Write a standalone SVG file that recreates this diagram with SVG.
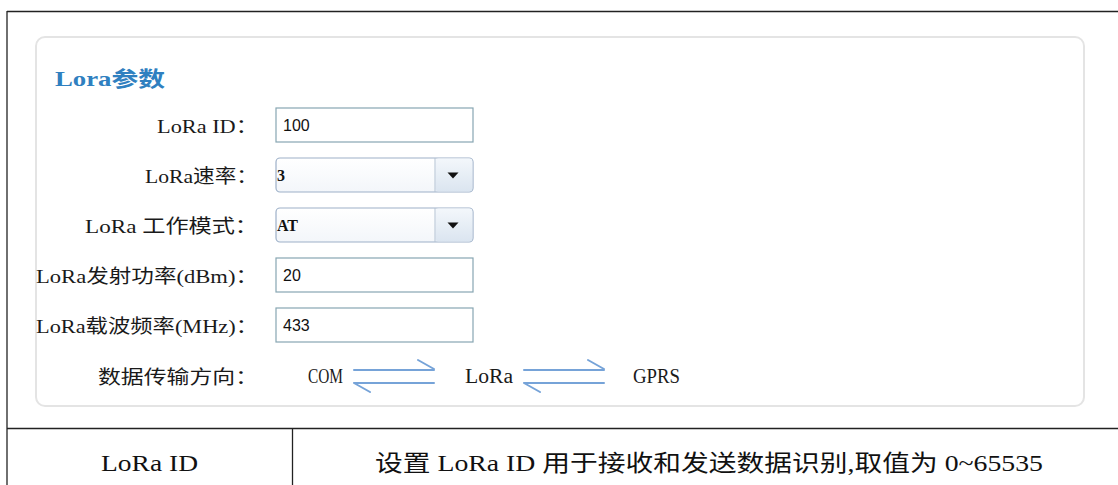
<svg xmlns="http://www.w3.org/2000/svg" width="1118" height="485" viewBox="0 0 1118 485">
<style>
.lbl{font-family:"Liberation Serif","Noto Sans CJK SC",serif;font-size:19px;fill:#1a1a1a;text-anchor:end}
.val{font-family:"Liberation Sans","DejaVu Sans",sans-serif;font-size:16px;fill:#111}
.valm{font-family:"Liberation Serif",serif;font-size:16px;fill:#111;font-weight:bold}
.nd{font-family:"Liberation Serif",serif;font-size:20px;fill:#1a1a1a}
.box{fill:#fff;stroke:#87a6b2;stroke-width:1.2}
.sel{fill:url(#selg);stroke:#9db0c8;stroke-width:1.2}
.btn{fill:url(#btng)}
.arr{stroke:#76a3d8;stroke-width:2;fill:none;stroke-linecap:round}
.tbl{font-family:"Liberation Serif","Noto Sans CJK SC",serif;font-size:23px;fill:#111}
</style>
<defs>
<linearGradient id="selg" x1="0" y1="0" x2="0" y2="1"><stop offset="0" stop-color="#ffffff"/><stop offset="1" stop-color="#f3f6fa"/></linearGradient>
<linearGradient id="btng" x1="0" y1="0" x2="0" y2="1"><stop offset="0" stop-color="#f3f7fb"/><stop offset="1" stop-color="#dbe5f0"/></linearGradient>
</defs>
<rect width="1118" height="485" fill="#fff"/>
<g id="frame">
<line x1="7" y1="11.5" x2="1118" y2="11.5" stroke="#222" stroke-width="1.3"/>
<line x1="7" y1="11" x2="7" y2="485" stroke="#222" stroke-width="1.3"/>
</g>
<g id="panel">
<rect x="36" y="37" width="1048" height="369" rx="9" fill="#fff" stroke="#e4e4e4" stroke-width="2"/>
<text x="55" y="86" font-family="Liberation Serif,'Noto Sans CJK SC',serif" font-size="21" font-weight="bold" fill="#2f80c0" textLength="110" lengthAdjust="spacingAndGlyphs">Lora参数</text>
</g>
<g id="row-id">
<text class="lbl" x="258" y="133" textLength="101" lengthAdjust="spacingAndGlyphs">LoRa ID：</text>
<rect class="box" x="276" y="108" width="197" height="34"/>
<text class="val" x="283" y="131">100</text>
</g>
<g id="row-rate">
<text class="lbl" x="258" y="183" textLength="113" lengthAdjust="spacingAndGlyphs">LoRa速率：</text>
<rect class="sel" x="276" y="158" width="197" height="34" rx="4"/>
<rect class="btn" x="435.6" y="158.6" width="36.8" height="32.8" rx="3"/>
<line x1="435" y1="158" x2="435" y2="192" stroke="#b3c2d3"/>
<polygon points="447.5,172.5 458.5,172.5 453,178.5" fill="#111"/>
<text class="valm" x="277" y="181">3</text>
</g>
<g id="row-mode">
<text class="lbl" x="258" y="233" textLength="173" lengthAdjust="spacingAndGlyphs">LoRa 工作模式：</text>
<rect class="sel" x="276" y="208" width="197" height="34" rx="4"/>
<rect class="btn" x="435.6" y="208.6" width="36.8" height="32.8" rx="3"/>
<line x1="435" y1="208" x2="435" y2="242" stroke="#b3c2d3"/>
<polygon points="447.5,222.5 458.5,222.5 453,228.5" fill="#111"/>
<text class="valm" x="277" y="231">AT</text>
</g>
<g id="row-power">
<text class="lbl" x="258" y="283" textLength="222" lengthAdjust="spacingAndGlyphs">LoRa发射功率(dBm)：</text>
<rect class="box" x="276" y="258" width="197" height="34"/>
<text class="val" x="283" y="281">20</text>
</g>
<g id="row-freq">
<text class="lbl" x="258" y="333" textLength="222" lengthAdjust="spacingAndGlyphs">LoRa载波频率(MHz)：</text>
<rect class="box" x="276" y="308" width="197" height="34"/>
<text class="val" x="283" y="331">433</text>
</g>
<g id="row-dir">
<text class="lbl" x="258" y="384" textLength="160" lengthAdjust="spacingAndGlyphs">数据传输方向：</text>
</g>
<g id="node-com"><text class="nd" x="308" y="383" textLength="35" lengthAdjust="spacingAndGlyphs">COM</text></g>
<g id="node-lora"><text class="nd" x="465" y="383" textLength="48" lengthAdjust="spacingAndGlyphs">LoRa</text></g>
<g id="node-gprs"><text class="nd" x="633" y="383" textLength="47" lengthAdjust="spacingAndGlyphs">GPRS</text></g>
<g id="connectors">
<path class="arr" d="M354,370 H434 M418,360 L434,369"/>
<path class="arr" d="M354,383 H434 M354,383 L370,392"/>
<path class="arr" d="M524,370 H604 M588,360 L604,369"/>
<path class="arr" d="M524,383 H604 M524,383 L540,392"/>
</g>
<g id="table">
<line x1="7" y1="428.5" x2="1118" y2="428.5" stroke="#222" stroke-width="1.3"/>
<line x1="292.5" y1="428" x2="292.5" y2="485" stroke="#222" stroke-width="1.3"/>
<text class="tbl" x="149.5" y="471" text-anchor="middle" textLength="97" lengthAdjust="spacingAndGlyphs">LoRa ID</text>
<text class="tbl" x="709" y="471" text-anchor="middle" textLength="668" lengthAdjust="spacingAndGlyphs">设置 LoRa ID 用于接收和发送数据识别,取值为 0~65535</text>
</g>
</svg>
